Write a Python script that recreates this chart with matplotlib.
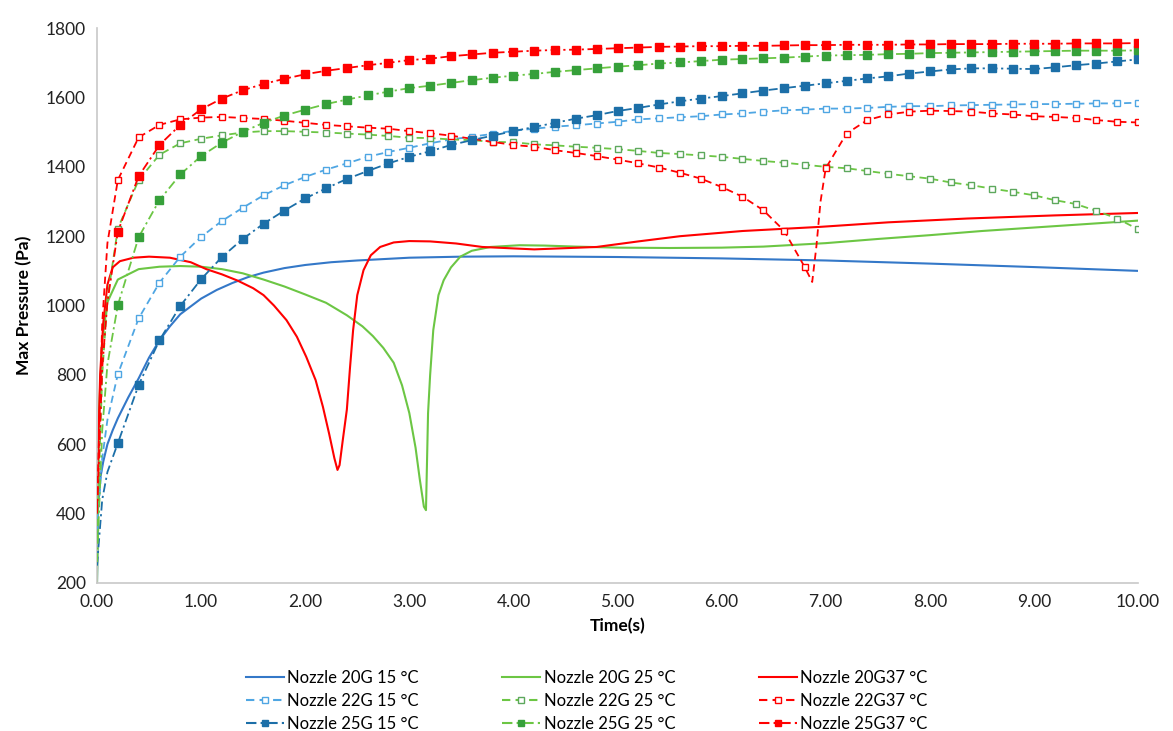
import matplotlib
matplotlib.use("Agg")
import matplotlib.pyplot as plt
from matplotlib.lines import Line2D

plt.rcParams['font.family'] = ['Lato', 'DejaVu Sans']

# sample times of the marked series (markers every 0.2 s), plus a few early unmarked points
t_early = [0.0, 0.05, 0.1]
t_mark = [round(0.2 * i, 1) for i in range(1, 51)]

# --- Nozzle 22G (open squares, dashed)
p22_15_early = [350, 560, 670]
p22_15 = [802, 963, 1066, 1141, 1198, 1244, 1282, 1318, 1347, 1371,
          1392, 1410, 1429, 1443, 1455, 1468, 1479, 1487, 1495, 1504,
          1510, 1516, 1520, 1525, 1530, 1537, 1540, 1543, 1546, 1551,
          1554, 1559, 1563, 1565, 1568, 1568, 1570, 1573, 1575, 1575,
          1577, 1578, 1579, 1580, 1581, 1581, 1582, 1583, 1583, 1585]

p22_25_early = [330, 800, 1020]
p22_25 = [1222, 1362, 1435, 1468, 1481, 1491, 1499, 1503, 1503, 1501,
          1499, 1496, 1493, 1489, 1484, 1483, 1479, 1477, 1472, 1471,
          1465, 1462, 1458, 1455, 1451, 1446, 1440, 1437, 1433, 1429,
          1423, 1417, 1412, 1406, 1400, 1396, 1388, 1380, 1373, 1366,
          1355, 1347, 1337, 1328, 1318, 1304, 1293, 1273, 1251, 1220]

p22_37_early = [420, 950, 1180]
p22_37 = [1362, 1485, 1521, 1537, 1542, 1544, 1541, 1538, 1533, 1527,
          1521, 1517, 1513, 1510, 1503, 1497, 1490, 1481, 1472, 1463,
          1458, 1448, 1440, 1431, 1421, 1410, 1398, 1383, 1366, 1342,
          1314, 1275, 1216, 1110, 1396, 1496, 1535, 1551, 1559, 1562,
          1561, 1559, 1554, 1551, 1546, 1544, 1541, 1535, 1530, 1528]
# unmarked points of the sharp dip between 6.8 s and 7.0 s
t22_37_dip = [6.87, 6.91, 6.95]
p22_37_dip = [1068, 1170, 1300]

# --- Nozzle 25G (filled squares, dash-dot)
p25_15_early = [250, 440, 520]
p25_15 = [603, 771, 900, 999, 1076, 1140, 1192, 1236, 1274, 1309,
          1338, 1365, 1388, 1410, 1429, 1445, 1463, 1477, 1490, 1503,
          1515, 1527, 1539, 1549, 1561, 1570, 1580, 1589, 1597, 1604,
          1612, 1620, 1627, 1634, 1641, 1648, 1655, 1661, 1669, 1675,
          1681, 1684, 1684, 1683, 1682, 1687, 1693, 1698, 1704, 1710]

p25_25_early = [260, 640, 830]
p25_25 = [1001, 1197, 1304, 1378, 1431, 1470, 1501, 1527, 1548, 1565,
          1581, 1594, 1606, 1617, 1627, 1634, 1642, 1650, 1657, 1663,
          1668, 1674, 1679, 1684, 1689, 1693, 1698, 1701, 1705, 1709,
          1711, 1713, 1715, 1718, 1721, 1722, 1723, 1725, 1726, 1728,
          1729, 1730, 1731, 1732, 1733, 1734, 1735, 1735, 1735, 1736]

p25_37_early = [400, 820, 1010]
p25_37 = [1213, 1373, 1463, 1521, 1566, 1597, 1621, 1639, 1654, 1667,
          1677, 1685, 1693, 1700, 1708, 1712, 1719, 1724, 1729, 1732,
          1735, 1737, 1738, 1740, 1742, 1744, 1746, 1747, 1748, 1748,
          1749, 1749, 1750, 1751, 1751, 1752, 1752, 1752, 1753, 1753,
          1754, 1754, 1754, 1755, 1755, 1755, 1756, 1756, 1756, 1757]

# --- Nozzle 20G (solid lines, no markers)
t20_15 = [0, 0.01, 0.03, 0.06, 0.1, 0.15, 0.2, 0.3, 0.4, 0.5, 0.6, 0.7, 0.8,
          1.0, 1.15, 1.3, 1.45, 1.6, 1.8, 2.0, 2.25, 2.5, 3.0, 3.5, 4.0, 5.0,
          6.0, 7.0, 8.0, 9.0, 10.0]
p20_15 = [200, 420, 500, 550, 600, 640, 675, 735, 790, 850, 900, 940, 975,
          1020, 1045, 1065, 1082, 1095, 1108, 1117, 1125, 1130, 1138, 1141,
          1142, 1140, 1136, 1130, 1121, 1111, 1100]

t20_25 = [0, 0.02, 0.05, 0.1, 0.2, 0.4, 0.6, 0.8, 1.0, 1.2, 1.4, 1.6, 1.8, 2.0,
          2.2, 2.4, 2.55, 2.65, 2.75, 2.85, 2.93, 3.0, 3.06, 3.1, 3.14, 3.16,
          3.18, 3.2, 3.23, 3.28, 3.33, 3.4, 3.49, 3.6, 3.78, 4.06, 4.3, 4.6,
          5.0, 5.5, 6.0, 6.4, 7.0, 7.5, 8.0, 8.5, 9.0, 9.5, 10.0]
p20_25 = [200, 700, 900, 1010, 1075, 1105, 1112, 1114, 1112, 1105, 1093, 1075,
          1055, 1032, 1008, 972, 940, 912, 878, 835, 770, 690, 590, 500, 420,
          410, 690, 800, 929, 1030, 1073, 1110, 1141, 1158, 1169, 1174, 1173,
          1170, 1167, 1166, 1167, 1170, 1180, 1192, 1203, 1215, 1225, 1235,
          1245]

t20_37 = [0, 0.03, 0.06, 0.1, 0.15, 0.22, 0.35, 0.5, 0.7, 0.9, 1.05, 1.2, 1.35,
          1.5, 1.6, 1.7, 1.82, 1.92, 2.01, 2.1, 2.17, 2.23, 2.28, 2.31, 2.33,
          2.36, 2.4, 2.43, 2.46, 2.5, 2.56, 2.63, 2.72, 2.85, 3.0, 3.2, 3.45,
          3.7, 4.2, 4.8, 5.2, 5.6, 6.2, 6.95, 7.6, 8.36, 9.2, 10.0]
p20_37 = [450, 800, 950, 1060, 1110, 1128, 1138, 1141, 1138, 1125, 1105, 1090,
          1072, 1050, 1030, 1000, 958, 910, 852, 785, 708, 630, 560, 526, 540,
          610, 700, 820, 929, 1030, 1102, 1145, 1169, 1182, 1186, 1185, 1179,
          1169, 1162, 1169, 1185, 1200, 1215, 1227, 1240, 1251, 1260, 1267]

blue_solid = '#3478C8'
blue_light = '#4FA6E3'
blue_dark = '#1C6FA8'
green_line = '#6CC644'
green_open = '#5DA85D'
green_fill = '#36A03A'
red = '#FF0000'

DASH = (0, (4, 2.5))
DASHDOT = (0, (5, 2, 1.2, 2))

fig = plt.figure(figsize=(11.73, 7.31), dpi=100)
ax = fig.add_axes([0.0827, 0.2025, 0.8875, 0.759])

# solid 20G lines
ax.plot(t20_15, p20_15, color=blue_solid, lw=1.5, zorder=2)
ax.plot(t20_25, p20_25, color=green_line, lw=1.5, zorder=2)
ax.plot(t20_37, p20_37, color=red, lw=1.5, zorder=2)

mark_idx = list(range(3, 53))

def marked(ax, early, vals, lc, mc, ls, filled):
    tt = t_early + t_mark
    pp = early + vals
    ax.plot(tt, pp, color=lc, lw=1.3, ls=ls, marker='s',
            markersize=5.5 if filled else 5,
            markerfacecolor=mc if filled else 'white',
            markeredgecolor=mc, markeredgewidth=1.0,
            markevery=mark_idx, zorder=3)

marked(ax, p22_15_early, p22_15, blue_light, blue_light, DASH, False)
marked(ax, p22_25_early, p22_25, green_line, green_open, DASH, False)

# 22G 37 has an extra dip between markers
tt = t_early + t_mark
pp = p22_37_early + p22_37
i68 = tt.index(6.8) + 1
tt37 = tt[:i68] + t22_37_dip + tt[i68:]
pp37 = pp[:i68] + p22_37_dip + pp[i68:]
idx37 = [i for i, v in enumerate(tt37) if v in t_mark]
ax.plot(tt37, pp37, color=red, lw=1.3, ls=DASH, marker='s', markersize=5,
        markerfacecolor='white', markeredgecolor=red, markeredgewidth=1.0,
        markevery=idx37, zorder=3)

marked(ax, p25_15_early, p25_15, blue_dark, blue_dark, DASHDOT, True)
marked(ax, p25_25_early, p25_25, green_line, green_fill, DASHDOT, True)
marked(ax, p25_37_early, p25_37, red, red, DASHDOT, True)

ax.set_xlim(0, 10)
ax.set_ylim(200, 1800)
ax.set_xticks(range(0, 11))
ax.set_xticklabels(['%.2f' % v for v in range(0, 11)])
ax.set_yticks(range(200, 1801, 200))
ax.tick_params(length=0, labelsize=12.5, colors='#222222', pad=8)
for s in ['top', 'right']:
    ax.spines[s].set_visible(False)
for s in ['left', 'bottom']:
    ax.spines[s].set_color('#C8C8C8')
    ax.spines[s].set_linewidth(1.2)

ax.set_xlabel('Time(s)', fontsize=12.5, fontweight='bold', labelpad=6)
ax.set_ylabel('Max Pressure (Pa)', fontsize=12.5, fontweight='bold', labelpad=10)

def h(c, ls='-', m=None, mc=None, filled=False):
    return Line2D([], [], color=c, lw=1.5, ls=ls, marker=m, markersize=5,
                  markerfacecolor=(mc if filled else 'white'),
                  markeredgecolor=mc)

handles = [
    h(blue_solid), h(blue_light, DASH, 's', blue_light), h(blue_dark, DASHDOT, 's', blue_dark, True),
    h(green_line), h(green_line, DASH, 's', green_open), h(green_line, DASHDOT, 's', green_fill, True),
    h(red), h(red, DASH, 's', red), h(red, DASHDOT, 's', red, True),
]
labels = [
    'Nozzle 20G 15 °C', 'Nozzle 22G 15 °C', 'Nozzle 25G 15 °C',
    'Nozzle 20G 25 °C', 'Nozzle 22G 25 °C', 'Nozzle 25G 25 °C',
    'Nozzle 20G37 °C', 'Nozzle 22G37 °C', 'Nozzle 25G37 °C',
]
fig.legend(handles, labels, ncol=3, loc='upper center', bbox_to_anchor=(0.5, 0.083),
           frameon=False, fontsize=12, handlelength=2.3, handletextpad=0.2,
           columnspacing=5.0, labelspacing=0.42, borderaxespad=0.0, borderpad=0.0)

fig.savefig('out.png', dpi=100)
